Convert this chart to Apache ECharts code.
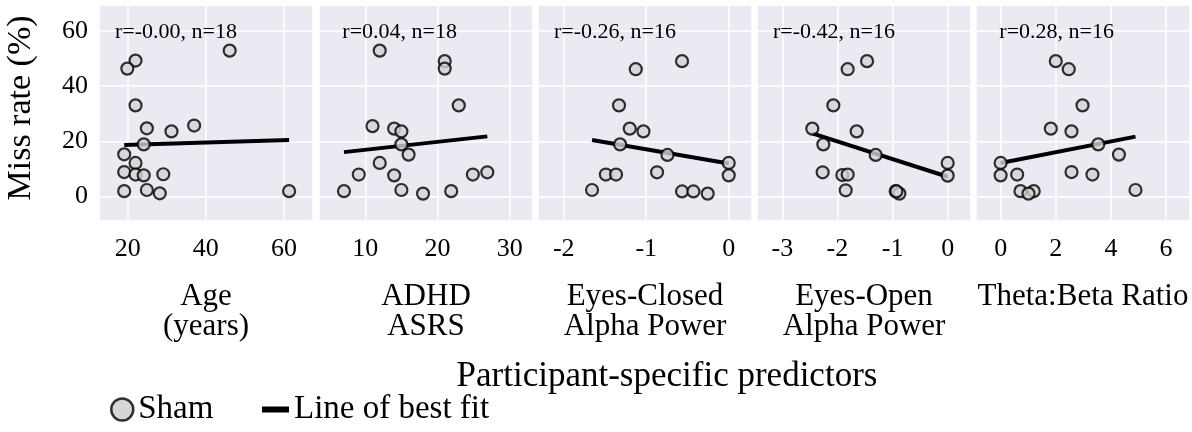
<!DOCTYPE html>
<html>
<head>
<meta charset="utf-8">
<script src="https://cdn.jsdelivr.net/npm/echarts@6/dist/echarts.min.js"></script>
<style>
  html, body { margin: 0; padding: 0; background: #ffffff; }
  #chart { width: 1192px; height: 432px; }
</style>
</head>
<body>
<div id="chart"></div>
<script>
// Predictor panels: axis titles and correlation annotations
const predictorNames = ['Age\n(years)', 'ADHD\nASRS', 'Eyes-Closed\nAlpha Power', 'Eyes-Open\nAlpha Power', 'Theta:Beta Ratio'];
const corrLabels = ['r=-0.00, n=18', 'r=0.04, n=18', 'r=-0.26, n=16', 'r=-0.42, n=16', 'r=0.28, n=16'];

// Sham participants: predictor value (x) and miss rate in % (y)
const ageX = [46.1, 22.0, 19.9, 22.0, 24.9, 31.2, 37.0, 24.1, 19.1, 22.0, 19.1, 22.0, 24.1, 29.1, 19.1, 24.9, 28.2, 61.3];
const ageY = [52.8, 49.2, 46.3, 33.0, 24.7, 23.6, 25.7, 18.9, 15.3, 12.2, 8.9, 8.0, 7.7, 8.1, 2.0, 2.4, 1.2, 2.0];

const asrsX = [12.0, 21.0, 21.0, 22.95, 11.0, 14.0, 15.0, 15.0, 16.0, 12.0, 9.1, 14.0, 24.9, 26.9, 7.05, 15.0, 18.0, 21.9];
const asrsY = [52.8, 49.0, 46.3, 33.0, 25.5, 24.6, 23.6, 18.9, 15.2, 12.2, 8.0, 7.7, 8.0, 8.8, 2.0, 2.4, 1.1, 2.0];

const ecAlphaX = [-0.566, -1.127, -1.33, -1.20, -1.034, -1.317, -0.743, 0.0, -1.49, -1.366, -0.869, 0.0, -1.657, -0.566, -0.428, -0.255];
const ecAlphaY = [49.0, 46.1, 33.0, 24.6, 23.6, 18.9, 15.1, 12.2, 8.0, 8.0, 8.8, 7.7, 2.4, 1.9, 1.9, 1.1];

const eoAlphaX = [-1.463, -1.814, -2.074, -2.456, -1.651, -2.256, -1.306, 0.0, -2.268, -1.911, -1.814, 0.0, -1.85, -0.943, -0.876, -0.93];
const eoAlphaY = [49.0, 46.1, 33.0, 24.6, 23.6, 18.9, 15.1, 12.2, 8.8, 7.8, 8.0, 7.6, 2.3, 2.0, 1.1, 1.9];

const tbrX = [2.0, 2.47, 2.97, 1.82, 2.57, 3.54, 4.29, 0.0, 0.0, 0.6, 2.57, 3.33, 0.72, 1.2, 1.01, 4.89];
const tbrY = [49.0, 46.1, 33.0, 24.6, 23.6, 18.9, 15.2, 12.2, 7.7, 8.0, 8.9, 8.0, 2.0, 2.0, 1.1, 2.4];

// Line of best fit end points for each panel
const ageFitX = [19.1, 61.3];     const ageFitY = [18.7, 20.5];
const asrsFitX = [7.05, 26.9];    const asrsFitY = [16.1, 21.8];
const ecFitX = [-1.657, 0.0];     const ecFitY = [20.5, 12.0];
const eoFitX = [-2.456, 0.0];     const eoFitY = [22.9, 7.2];
const tbrFitX = [0.0, 4.89];      const tbrFitY = [12.2, 21.7];

// Axis extents per panel
const xMins = [12.65, 3.59, -2.312, -3.459, -0.893];
const xMaxs = [67.42, 33.23, 0.282, 0.423, 6.867];
const xSplits = [3, 3, 3, 3, 4];
const yMin = -8.8, yMax = 69.3;

const scatterX = [ageX, asrsX, ecAlphaX, eoAlphaX, tbrX];
const scatterY = [ageY, asrsY, ecAlphaY, eoAlphaY, tbrY];
const fitX = [ageFitX, asrsFitX, ecFitX, eoFitX, tbrFitX];
const fitY = [ageFitY, asrsFitY, ecFitY, eoFitY, tbrFitY];

const FONT = 'Liberation Serif';
const gridLefts = [99, 319, 538, 757, 976];
const gridWidth = 214;
const gridTop = 5, gridHeight = 216;

const zip = (xs, ys) => xs.map((x, i) => [x, ys[i]]);

const grids = [], xAxes = [], yAxes = [], series = [], graphics = [];
for (let i = 0; i < 5; i++) {
  grids.push({
    left: gridLefts[i], top: gridTop, width: gridWidth, height: gridHeight,
    show: true, backgroundColor: '#EAEAF2', borderWidth: 0, containLabel: false
  });
  xAxes.push({
    type: 'value', gridIndex: i, min: xMins[i], max: xMaxs[i], splitNumber: xSplits[i],
    axisLine: { show: false }, axisTick: { show: false },
    splitLine: { show: true, lineStyle: { color: '#ffffff', width: 1.5 } },
    axisLabel: { show: true, showMinLabel: false, showMaxLabel: false, margin: 15,
      fontFamily: FONT, fontSize: 26, color: '#000' },
    name: predictorNames[i], nameLocation: 'middle', nameGap: 61,
    nameTextStyle: { fontFamily: FONT, fontSize: 31, color: '#000', lineHeight: 30 }
  });
  yAxes.push({
    type: 'value', gridIndex: i, min: yMin, max: yMax, splitNumber: 4,
    axisLine: { show: false }, axisTick: { show: false },
    splitLine: { show: true, lineStyle: { color: '#ffffff', width: 1.5 } },
    axisLabel: { show: i === 0, showMinLabel: false, showMaxLabel: false, margin: 11,
      fontFamily: FONT, fontSize: 26, color: '#000' },
    name: i === 0 ? 'Miss rate (%)' : '', nameLocation: 'middle', nameGap: 61,
    nameTextStyle: { fontFamily: FONT, fontSize: 34, color: '#000', padding: [0, 0, 0, 10] }
  });
  series.push({
    name: 'Line of best fit', type: 'line', xAxisIndex: i, yAxisIndex: i,
    data: zip(fitX[i], fitY[i]), symbol: 'none', z: 2,
    lineStyle: { color: '#000', width: 4 }, itemStyle: { color: '#000' }
  });
  series.push({
    name: 'Sham', type: 'scatter', xAxisIndex: i, yAxisIndex: i,
    data: zip(scatterX[i], scatterY[i]), symbol: 'circle', symbolSize: 12, z: 3,
    itemStyle: { color: '#d3d3d3', borderColor: '#000', borderWidth: 2.2 }
  });
  graphics.push({
    type: 'text', x: gridLefts[i] + 138, y: 32, z: 100,
    style: { text: corrLabels[i], font: '22px "' + FONT + '"', fill: '#000',
      align: 'right', verticalAlign: 'middle' }
  });
}

// Shared x title
graphics.push({
  type: 'text', x: 667, y: 377, z: 100,
  style: { text: 'Participant-specific predictors', font: '35px "' + FONT + '"', fill: '#000',
    align: 'center', verticalAlign: 'middle' }
});

const option = {
  animation: false,
  backgroundColor: '#ffffff',
  grid: grids,
  xAxis: xAxes,
  yAxis: yAxes,
  series: series,
  graphic: graphics,
  legend: [
    {
      left: 105, top: 388, itemWidth: 22, itemHeight: 22, itemGap: 6,
      data: [{ name: 'Sham', icon: 'circle',
        itemStyle: { color: '#cccccc', borderColor: '#000', borderWidth: 2.5 } }],
      textStyle: { fontFamily: FONT, fontSize: 33, color: '#000' }
    },
    {
      left: 257, top: 388, itemWidth: 27, itemHeight: 6, itemGap: 5,
      data: [{ name: 'Line of best fit', icon: 'rect', itemStyle: { color: '#000' } }],
      textStyle: { fontFamily: FONT, fontSize: 33, color: '#000' }
    }
  ]
};

const chart = echarts.init(document.getElementById('chart'), null, { renderer: 'canvas' });
chart.setOption(option);
</script>
</body>
</html>
